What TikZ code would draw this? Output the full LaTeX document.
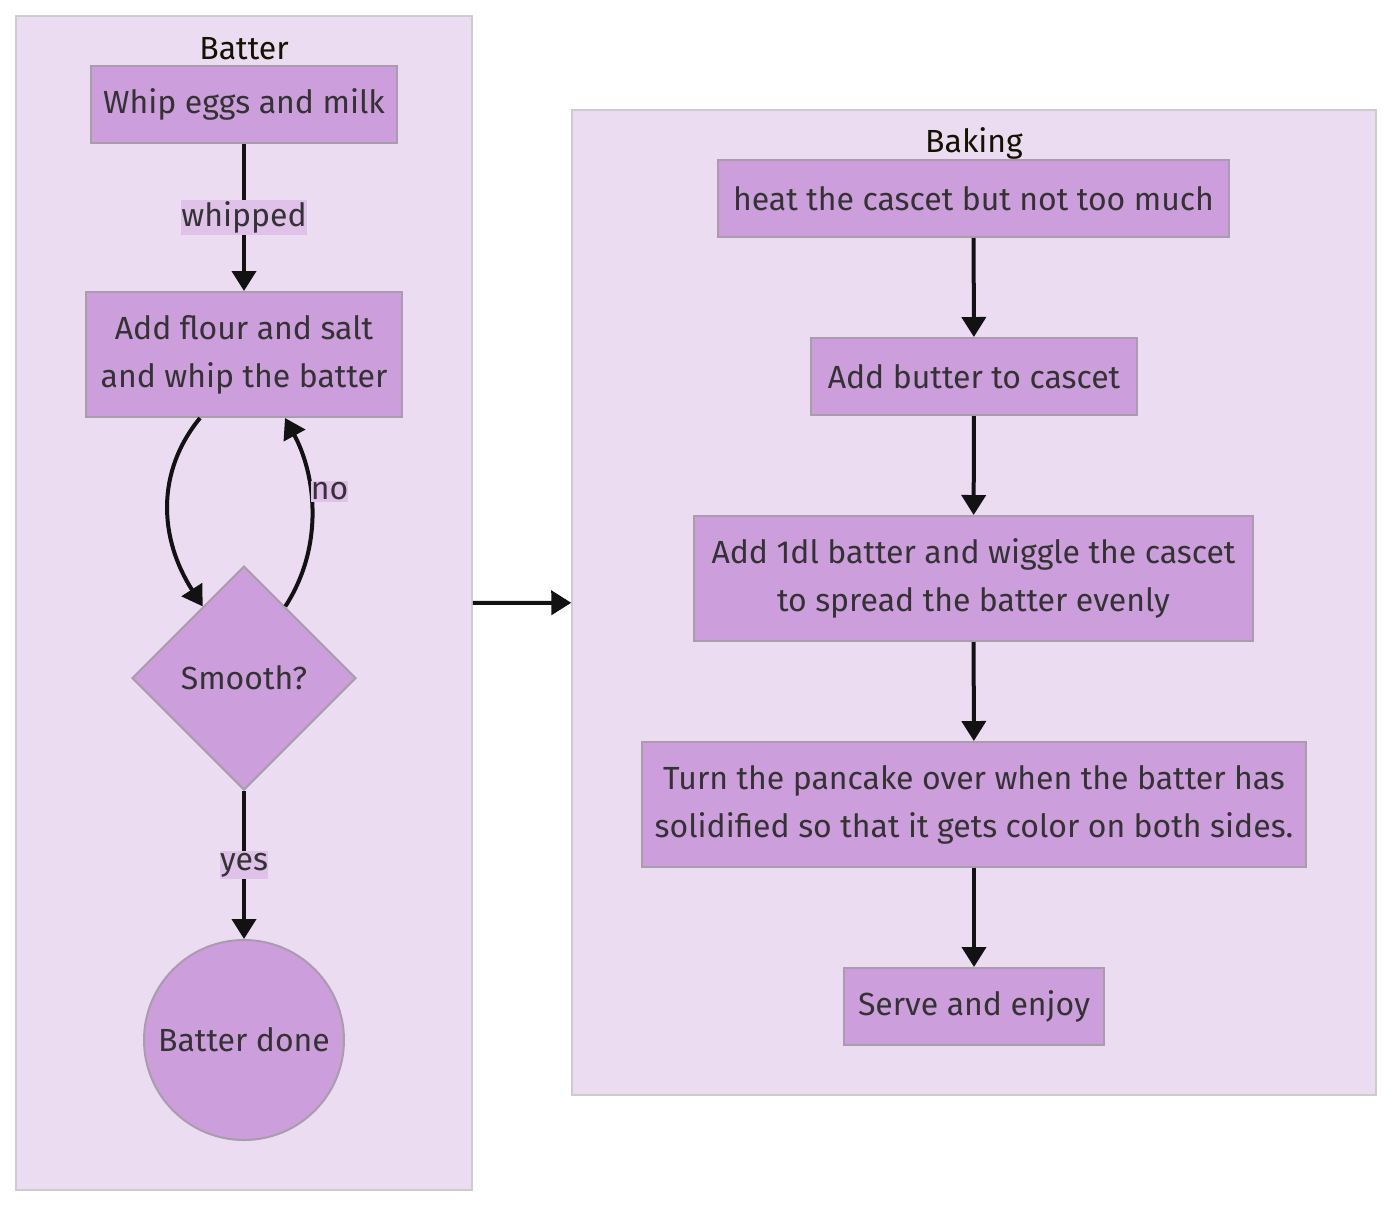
\documentclass[tikz,border=0pt]{standalone}
\usepackage{fontspec}
\setmainfont{Fira Sans}
\usepackage{xcolor}
\usetikzlibrary{positioning,shapes,arrows.meta}

\definecolor{clusterfill}{HTML}{ECDCF2}
\definecolor{clusterline}{HTML}{CCCCCC}
\definecolor{nodefill}{HTML}{CC9EDB}
\definecolor{nodeline}{HTML}{A99DAB}
\definecolor{labelfill}{HTML}{DFC1EA}
\definecolor{textgrey}{HTML}{333333}
\definecolor{titlecol}{HTML}{131300}

\begin{document}
\begin{tikzpicture}[x=0.5pt,y=-0.5pt]
\tikzstyle{every node}+=[font=\fontsize{16}{24}\selectfont, text=textgrey]
\tikzstyle{cluster}=[draw=clusterline, fill=clusterfill, line width=0.75pt, inner sep=0pt]
\tikzstyle{stepbox}=[draw=nodeline, fill=nodefill, line width=1pt, inner sep=0pt, align=center, minimum height=38.5pt]
\tikzstyle{edge}=[line width=2pt, draw=black!93, -{Triangle[length=10pt,width=12pt]}]
\tikzstyle{edgelabel}=[fill=labelfill, inner xsep=0pt, inner ysep=1pt]
\useasboundingbox (0,0) rectangle (1392,1206);
% subgraphs
\node [cluster, minimum width=228pt, minimum height=587pt] (batter) at (244,603) {};
\node [cluster, minimum width=402pt, minimum height=492.5pt] (baking) at (974,602.5) {};
\node [text=titlecol] (battertitle) at (244,49) {Batter};
\node [text=titlecol] (bakingtitle) at (974,143) {Baking};
% batter
\node [stepbox, minimum width=153pt] (whip) at (244,104.5) {Whip eggs and milk};
\node [stepbox, minimum width=158pt, minimum height=62.5pt] (flour) at (244,354.5) {Add flour and salt\\and whip the batter};
\node [draw=nodeline, fill=nodefill, line width=1pt, diamond, inner sep=0pt, minimum width=112pt, minimum height=112pt] (smooth) at (244,678) {Smooth?};
\node [draw=nodeline, fill=nodefill, line width=1pt, circle, inner sep=0pt, minimum size=100pt] (done) at (244,1040) {Batter done};
% baking
\node [stepbox, minimum width=255.5pt] (heat) at (973.5,198.5) {heat the cascet but not too much};
\node [stepbox, minimum width=163pt] (butter) at (974,376.5) {Add butter to cascet};
\node [stepbox, minimum width=279.5pt, minimum height=62.5pt] (pour) at (973.5,578.5) {Add 1dl batter and wiggle the cascet\\to spread the batter evenly};
\node [stepbox, minimum width=332pt, minimum height=62.5pt] (turn) at (974,804.5) {Turn the pancake over when the batter has\\solidified so that it gets color on both sides.};
\node [stepbox, minimum width=130pt] (serve) at (974,1006.5) {Serve and enjoy};
% edges
\draw [edge] (whip) -- node [edgelabel] {whipped} (flour);
\draw [edge] ([xshift=-22pt]flour.south) .. controls +(-45,55) and +(-43,-67) .. (smooth.120);
\draw [edge] (smooth.60) .. controls +(40,-62) and +(30,55) .. ([xshift=20.5pt]flour.south);
\node [edgelabel] (nolabel) at (329.5,491.5) {no};
\draw [edge] (smooth) -- node [edgelabel] {yes} (done);
\draw [edge] (heat) -- (butter);
\draw [edge] (butter) -- (pour);
\draw [edge] (pour) -- (turn);
\draw [edge] (turn) -- (serve);
\draw [edge] (batter) -- (baking);
\end{tikzpicture}
\end{document}
